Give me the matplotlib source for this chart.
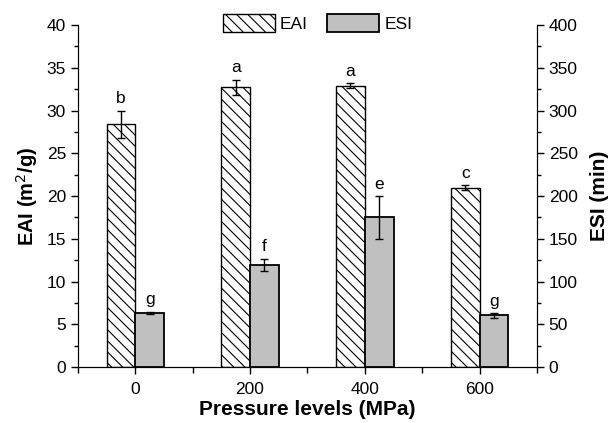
import matplotlib
matplotlib.use('Agg')
import matplotlib.pyplot as plt
from matplotlib.ticker import MultipleLocator

plt.rcParams['font.family'] = ['Liberation Sans', 'DejaVu Sans']
plt.rcParams['hatch.linewidth'] = 0.8

# data
pressure = [0, 200, 400, 600]
eai = [28.4, 32.7, 32.9, 21.0]
eai_err = [1.6, 0.9, 0.3, 0.3]
esi = [63.5, 119.5, 175, 60.5]
esi_err = [1.5, 7.5, 25, 3]
eai_letters = ['b', 'a', 'a', 'c']
esi_letters = ['g', 'f', 'e', 'g']

fig = plt.figure(figsize=(6.13, 4.23), dpi=100)
ax = fig.add_axes([0.127, 0.132, 0.749, 0.809])
ax2 = ax.twinx()

w = 50
b1 = ax.bar([p - w / 2 for p in pressure], eai, width=w, color='white', edgecolor='black',
            hatch='\\\\\\', linewidth=1.0, label='EAI', zorder=2)
ax.errorbar([p - w / 2 for p in pressure], eai, yerr=eai_err, fmt='none', ecolor='black',
            elinewidth=1, capsize=3, capthick=1, zorder=3)
b2 = ax2.bar([p + w / 2 for p in pressure], esi, width=w, color='#c0c0c0', edgecolor='black',
             linewidth=1.3, label='ESI', zorder=2)
ax2.errorbar([p + w / 2 for p in pressure], esi, yerr=esi_err, fmt='none', ecolor='black',
             elinewidth=1, capsize=3, capthick=1, zorder=3)

for p, v, e, t in zip(pressure, eai, eai_err, eai_letters):
    ax.text(p - w / 2, v + e + 0.5, t, ha='center', va='bottom', fontsize=12.5)
for p, v, e, t in zip(pressure, esi, esi_err, esi_letters):
    ax2.text(p + w / 2, v + e + 5, t, ha='center', va='bottom', fontsize=12.5)

ax.set_xlim(-100, 700)
ax.set_ylim(0, 40)
ax2.set_ylim(0, 400)
ax.set_xticks(pressure)
ax.set_xticks([-100, 100, 300, 500, 700], minor=True)
ax.yaxis.set_major_locator(MultipleLocator(5))
ax.yaxis.set_minor_locator(MultipleLocator(2.5))
ax2.yaxis.set_major_locator(MultipleLocator(50))
ax2.yaxis.set_minor_locator(MultipleLocator(25))

for a in (ax, ax2):
    a.spines['top'].set_visible(False)
    a.tick_params(which='major', direction='out', length=5, width=1, labelsize=12.5)
    a.tick_params(which='minor', direction='out', length=3, width=1)
ax.tick_params(axis='x', which='minor', length=4)
ax.tick_params(axis='x', which='major', pad=6)

ax.set_xlabel('Pressure levels (MPa)', fontsize=15, fontweight='bold', labelpad=2)
ax.set_ylabel('EAI (m$^2$/g)', fontsize=14.5, fontweight='bold', labelpad=5)
ax2.set_ylabel('ESI (min)', fontsize=15, fontweight='bold', labelpad=9)

fig.legend(handles=[b1, b2], loc='center', bbox_to_anchor=(0.518, 0.945), ncol=2,
           frameon=False, fontsize=12.5, handlelength=3.0, handleheight=1.2,
           columnspacing=1.1, handletextpad=0.3)

fig.savefig('out.png', dpi=100)
